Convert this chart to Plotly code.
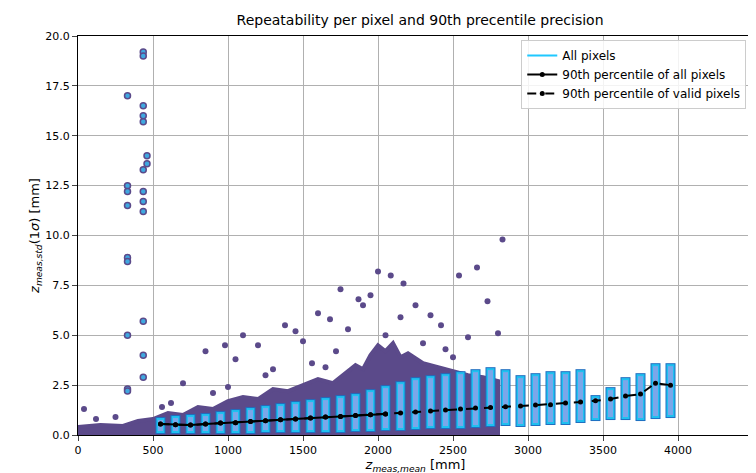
import plotly.graph_objects as go

# 90th percentile curves (one point per depth bin)
bin_x = [550, 650, 750, 850, 950, 1050, 1150, 1250, 1350, 1450, 1550, 1650, 1750, 1850, 1950,
         2050, 2150, 2250, 2350, 2450, 2550, 2650, 2750, 2850, 2950, 3050, 3150, 3250, 3350,
         3450, 3550, 3650, 3750, 3850, 3950]
p90_all = [0.55, 0.52, 0.5, 0.55, 0.6, 0.62, 0.68, 0.72, 0.76, 0.8, 0.85, 0.9, 0.93, 0.98, 1.02,
           1.05, 1.1, 1.15, 1.2, 1.25, 1.3, 1.35, 1.38, 1.42, 1.45, 1.5, 1.52, 1.6, 1.65,
           1.72, 1.8, 1.95, 2.05, 2.6, 2.5]
p90_valid = p90_all
# pixel stripes per bin (low / high std)
stripe_lo = [0.05, 0.05, 0.05, 0.05, 0.05, 0.05, 0.05, 0.1, 0.1, 0.1, 0.1, 0.1, 0.1, 0.15, 0.15,
             0.2, 0.2, 0.25, 0.3, 0.3, 0.3, 0.35, 0.4, 0.45, 0.4, 0.45, 0.5, 0.5, 0.6,
             0.7, 0.75, 0.75, 0.7, 0.8, 0.85]
stripe_hi = [0.9, 1.0, 1.05, 1.1, 1.2, 1.3, 1.4, 1.5, 1.6, 1.7, 1.8, 1.9, 2.0, 2.1, 2.3,
             2.5, 2.7, 2.9, 3.0, 3.1, 3.2, 3.3, 3.4, 3.3, 3.0, 3.1, 3.2, 3.2, 3.3,
             2.0, 2.4, 2.9, 3.1, 3.6, 3.6]
# outlier pixel groups near the sensor
near_x = [330, 330, 330, 330, 330, 330, 330, 330, 330, 435, 435, 435, 435, 435, 435, 435, 435, 435, 435, 435, 435, 460, 460]
near_y = [17.0, 12.5, 12.2, 11.5, 8.9, 8.7, 5.0, 2.3, 2.2, 19.2, 19.0, 16.5, 16.0, 15.7, 13.3, 12.2, 11.7, 11.2, 5.7, 4.0, 2.9, 14.0, 13.6]
# upper envelope of the dense cloud
cloud_x = [0, 150, 300, 400, 500, 600, 700, 800, 900, 1000, 1100, 1200, 1300, 1400, 1500, 1600, 1700,
           1800, 1850, 1900, 1950, 2000, 2050, 2100, 2150, 2200, 2300, 2400, 2500, 2600, 2700, 2800,
           2800, 0]
cloud_y = [0.4, 0.5, 0.45, 0.7, 0.8, 1.1, 1.0, 1.4, 1.3, 1.7, 1.9, 1.8, 2.3, 2.2, 2.5, 2.8, 2.6,
           3.2, 3.5, 3.3, 4.0, 4.5, 4.2, 4.6, 3.9, 4.1, 3.6, 3.4, 3.2, 3.0, 2.9, 2.7,
           0.0, 0.0]
# scattered points above the cloud
out_x = [2000, 2085, 2170, 2540, 2660, 2830, 2730, 1750, 1600, 1900, 1950, 2250, 1450, 1200, 1380, 1100,
         980, 850, 1050, 1500, 1680, 2350, 2420, 2800, 2600, 1870, 2150, 700, 1300, 1800, 40, 120, 250,
         560, 900, 1250, 1560, 1720, 2050, 2300, 2450, 2500, 1650, 1000, 620]
out_y = [8.2, 8.0, 7.6, 8.0, 8.4, 9.8, 6.7, 7.3, 6.1, 6.5, 7.0, 6.5, 5.2, 4.5, 5.5, 5.0,
         4.5, 4.2, 3.8, 4.7, 5.8, 6.0, 5.5, 5.1, 4.9, 6.8, 5.9, 2.6, 3.3, 5.3, 1.3, 0.8, 0.9,
         1.4, 2.1, 3.0, 3.6, 4.2, 5.0, 4.6, 4.3, 3.9, 3.4, 2.4, 1.6]


def segs(lo, hi, trim):
    sx, sy = [], []
    for x, a, b in zip(bin_x, lo, hi):
        sx += [x, x, None]
        sy += [a + trim, b - trim, None]
    return sx, sy


fig = go.Figure()
fig.add_trace(go.Scatter(x=cloud_x, y=cloud_y, fill='toself', fillcolor='#5b4a8a', mode='lines',
                         line=dict(color='#5b4a8a', width=4), showlegend=False, hoverinfo='skip'))
fig.add_trace(go.Scatter(x=out_x, y=out_y, mode='markers', marker=dict(color='#5b4a8a', size=6),
                         showlegend=False))
fig.add_trace(go.Scatter(x=near_x, y=near_y, mode='markers',
                         marker=dict(color='#3fa8e0', size=6, line=dict(color='#5b4a8a', width=1.5)),
                         showlegend=False))
for col, w, trim in [('#1f6fc0', 10, 0.0), ('#1fc0f0', 8, 0.05), ('#7aa7ea', 5, 0.15)]:
    sx, sy = segs(stripe_lo, stripe_hi, trim)
    fig.add_trace(go.Scatter(x=sx, y=sy, mode='lines', line=dict(color=col, width=w),
                             showlegend=False, hoverinfo='skip'))
fig.add_trace(go.Scatter(x=[None], y=[None], mode='lines', line=dict(color='#1fc8ff', width=2),
                         name='All pixels'))
fig.add_trace(go.Scatter(x=bin_x[:16], y=p90_all[:16], mode='lines+markers', line=dict(color='black', width=2),
                         marker=dict(size=5), name='90th percentile of all pixels'))
fig.add_trace(go.Scatter(x=bin_x, y=p90_valid, mode='lines+markers', line=dict(color='black', width=2, dash='dash'),
                         marker=dict(size=5), name='90th percentile of valid pixels'))

fig.update_layout(
    width=756, height=473, margin=dict(l=70, r=11, t=28, b=46),
    plot_bgcolor='white', paper_bgcolor='white',
    font=dict(family='DejaVu Sans', size=11, color='black'),
    title=dict(text='Repeatability per pixel and 90th precentile precision', x=0.545, y=0.985,
               font=dict(size=14)),
    legend=dict(x=0.99, y=0.99, xanchor='right', yanchor='top', bordercolor='#cccccc', borderwidth=1,
                bgcolor='rgba(255,255,255,0.85)', font=dict(size=12)),
)
fig.update_xaxes(range=[0, 4500], dtick=500, showgrid=True, gridcolor='#b0b0b0', linecolor='black',
                 mirror=True, ticks='outside', zeroline=False, automargin=False,
                 title=dict(text='<i>z</i><sub><i>meas,mean</i></sub> [mm]', standoff=0))
fig.update_yaxes(range=[0, 20], dtick=2.5, tickformat='.1f', showgrid=True, gridcolor='#b0b0b0',
                 linecolor='black', mirror=True, ticks='outside', zeroline=False, automargin=False,
                 title=dict(text='<i>z</i><sub><i>meas,std</i></sub>(1<i>σ</i>) [mm]', standoff=2))
fig.write_html('out.html')
